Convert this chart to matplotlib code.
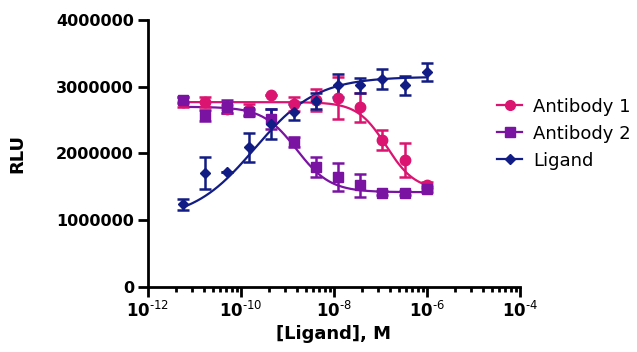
import numpy as np
import matplotlib
matplotlib.use("Agg")
import matplotlib.pyplot as plt
from matplotlib.ticker import FixedLocator, FuncFormatter, NullFormatter

plt.rcParams["font.family"] = ["DejaVu Sans"]
plt.rcParams["mathtext.fontset"] = "dejavusans"

# concentrations, 3-fold dilution series from 1 uM
conc = np.array([5.6e-12, 1.7e-11, 5.1e-11, 1.52e-10, 4.57e-10, 1.37e-9,
                 4.1e-9, 1.23e-8, 3.7e-8, 1.11e-7, 3.33e-7, 1.0e-6])

ab1 = [2.77e6, 2.77e6, 2.67e6, 2.65e6, 2.87e6, 2.74e6,
       2.80e6, 2.83e6, 2.69e6, 2.20e6, 1.90e6, 1.52e6]
ab1_err = [0.07e6, 0.08e6, 0.06e6, 0.09e6, 0.0, 0.10e6,
           0.17e6, 0.32e6, 0.22e6, 0.15e6, 0.25e6, 0.05e6]

ab2 = [2.80e6, 2.57e6, 2.70e6, 2.62e6, 2.52e6, 2.17e6,
       1.80e6, 1.65e6, 1.52e6, 1.41e6, 1.41e6, 1.46e6]
ab2_err = [0.05e6, 0.08e6, 0.10e6, 0.05e6, 0.15e6, 0.07e6,
           0.15e6, 0.21e6, 0.17e6, 0.03e6, 0.03e6, 0.04e6]

lig = [1.24e6, 1.70e6, 1.72e6, 2.09e6, 2.44e6, 2.62e6,
       2.79e6, 3.02e6, 3.02e6, 3.11e6, 3.02e6, 3.22e6]
lig_err = [0.08e6, 0.24e6, 0.0, 0.22e6, 0.22e6, 0.12e6,
           0.12e6, 0.17e6, 0.11e6, 0.15e6, 0.14e6, 0.14e6]

# 4PL fit parameters (bottom, top, logEC50, hill)
fit_ab1 = (1.45e6, 2.77e6, -6.87, -1.4)
fit_ab2 = (1.42e6, 2.70e6, -8.80, -1.2)
fit_lig = (1.00e6, 3.15e6, -9.70, 0.65)

c_ab1 = "#DA1470"
c_ab2 = "#7A12A2"
c_lig = "#111C84"


def four_pl(x, p):
    bottom, top, logec50, hill = p
    return bottom + (top - bottom) / (1 + 10 ** ((logec50 - np.log10(x)) * hill))


def dec_label(v, pos):
    e = int(round(np.log10(v)))
    return "$\\mathbf{10}^{\u2010%d}$" % abs(e)


fig = plt.figure(figsize=(6.37, 3.52), dpi=100)
ax = fig.add_axes([0.232, 0.185, 0.584, 0.758])

xx = np.logspace(np.log10(conc[0]), np.log10(conc[-1]), 300)
series = [("Antibody 1", ab1, ab1_err, fit_ab1, c_ab1, "o", 7.5),
          ("Antibody 2", ab2, ab2_err, fit_ab2, c_ab2, "s", 7),
          ("Ligand", lig, lig_err, fit_lig, c_lig, "D", 5.5)]
handles = []
for name, y, err, fit, col, mk, ms in series:
    ax.plot(xx, four_pl(xx, fit), color=col, lw=1.6, zorder=2)
    ax.errorbar(conc, y, yerr=err, fmt="none", ecolor=col, elinewidth=1.8,
                capsize=4, capthick=1.8, zorder=3)
    ax.plot(conc, y, ls="none", marker=mk, ms=ms, color=col, zorder=4)
    h, = ax.plot([], [], color=col, lw=1.6, marker=mk, ms=ms - 0.5)
    handles.append((h, name))

ax.set_xscale("log")
ax.set_xlim(1e-12, 1e-4)
ax.set_ylim(0, 4e6)

majors = [1e-12, 1e-10, 1e-8, 1e-6, 1e-4]
minors = []
for m in majors[:-1]:
    for k in range(2, 10):
        minors.append(m * 10 ** (2 * np.log10(k)))
ax.xaxis.set_major_locator(FixedLocator(majors))
ax.xaxis.set_minor_locator(FixedLocator(minors))
ax.xaxis.set_minor_formatter(NullFormatter())
ax.xaxis.set_major_formatter(FuncFormatter(dec_label))
ax.yaxis.set_major_locator(FixedLocator([0, 1e6, 2e6, 3e6, 4e6]))
ax.yaxis.set_major_formatter(FuncFormatter(lambda v, pos: "%d" % v))

for s in ("top", "right"):
    ax.spines[s].set_visible(False)
for s in ("left", "bottom"):
    ax.spines[s].set_linewidth(2)
ax.tick_params(which="major", length=7, width=2, direction="out",
               labelsize=11.5, pad=3)
ax.tick_params(which="minor", length=3.5, width=2, direction="out")
ax.tick_params(axis="x", labelsize=12)
for lab in ax.get_yticklabels():
    lab.set_fontweight("bold")

ax.set_xlabel("[Ligand], M", fontsize=13, fontweight="bold", labelpad=3)
ax.set_ylabel("RLU", fontsize=13, fontweight="bold", labelpad=21)

fig.legend([h for h, _ in handles], [n for _, n in handles],
           loc="center left", bbox_to_anchor=(0.755, 0.62), frameon=False,
           fontsize=13, handlelength=1.4, handletextpad=0.6, labelspacing=0.5)

fig.savefig("out.png", dpi=100)
